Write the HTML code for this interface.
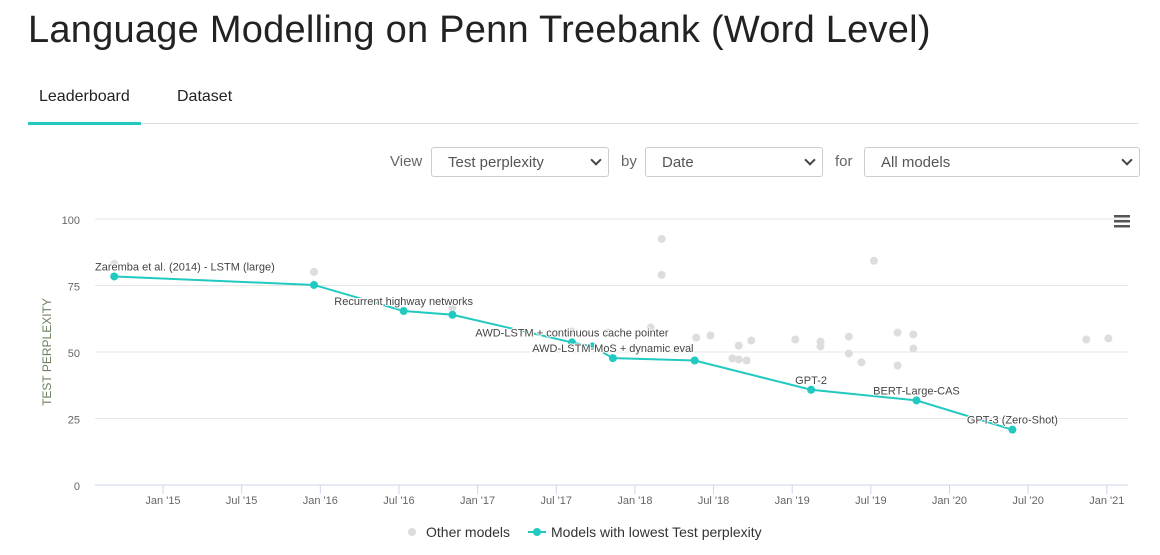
<!DOCTYPE html>
<html><head><meta charset="utf-8">
<style>
body{margin:0;width:1160px;height:555px;background:#fff;font-family:"Liberation Sans",sans-serif;overflow:hidden;position:relative}
.title{position:absolute;left:28px;top:9px;font-size:38px;color:#222;white-space:nowrap;letter-spacing:0.25px}
.tab{position:absolute;top:88px;font-size:16px;color:#222}
.sel{position:absolute;top:147px;height:30px;border:1px solid #ccc;border-radius:3px;box-sizing:border-box;font-size:15px;color:#555;padding:6px 16px;background:#fff}
.sel:after{content:"";position:absolute;right:8px;top:8px;width:6px;height:6px;border-right:2px solid #444;border-bottom:2px solid #444;transform:rotate(45deg)}
.lbl{position:absolute;top:153px;font-size:15px;color:#666}
</style></head><body>
<div class="title">Language Modelling on Penn Treebank (Word Level)</div>
<div class="tab" style="left:39px">Leaderboard</div>
<div class="tab" style="left:177px">Dataset</div>
<div style="position:absolute;left:28px;top:123px;width:1110px;height:1px;background:#ddd"></div>
<div style="position:absolute;left:28px;top:122px;width:113px;height:3px;background:#21c9c0"></div>
<div class="lbl" style="left:390px">View</div>
<div class="sel" style="left:431px;width:178px">Test perplexity</div>
<div class="lbl" style="left:621px">by</div>
<div class="sel" style="left:645px;width:178px">Date</div>
<div class="lbl" style="left:835px">for</div>
<div class="sel" style="left:864px;width:276px">All models</div>
<svg id="chart" width="1160" height="555" style="position:absolute;left:0;top:0" font-family="Liberation Sans, sans-serif"></svg>
<script>
const yTicks=[0,25,50,75,100];
const xTickYears=[2015,2015.5,2016,2016.5,2017,2017.5,2018,2018.5,2019,2019.5,2020,2020.5,2021];
const xTickLabels=["Jan '15","Jul '15","Jan '16","Jul '16","Jan '17","Jul '17","Jan '18","Jul '18","Jan '19","Jul '19","Jan '20","Jul '20","Jan '21"];
const bestDates=[2014.69,2015.96,2016.53,2016.84,2017.60,2017.73,2017.86,2018.38,2019.12,2019.79,2020.40];
const bestValues=[78.4,75.2,65.4,64.0,53.6,52.1,47.7,46.8,35.8,31.8,20.8];
const bestLabels=["Zaremba et al. (2014) - LSTM (large)","","Recurrent highway networks","","AWD-LSTM + continuous cache pointer","","AWD-LSTM-MoS + dynamic eval","","GPT-2","BERT-Large-CAS","GPT-3 (Zero-Shot)"];
const otherDates=[2014.69,2015.96,2016.84,2017.60,2017.83,2018.10,2018.17,2018.17,2018.39,2018.48,2018.66,2018.74,2018.62,2018.66,2018.71,2019.02,2019.18,2019.18,2019.36,2019.36,2019.44,2019.52,2019.67,2019.67,2019.77,2019.77,2020.87,2021.01];
const otherValues=[83.1,80.1,66.7,57.7,57.3,59.2,92.5,79.0,55.4,56.2,52.4,54.3,47.6,47.2,46.8,54.7,53.9,52.1,55.8,49.4,46.1,84.3,57.3,44.9,56.6,51.3,54.7,55.1];
const svg=document.getElementById('chart');
const NS='http://www.w3.org/2000/svg';
const X=t=>163+(t-2015)*157.3;
const Y=v=>485-v*2.66;
function mk(tag,at,txt){const e=document.createElementNS(NS,tag);for(const k in at)e.setAttribute(k,at[k]);if(txt!=null)e.textContent=txt;svg.appendChild(e);return e;}
yTicks.forEach(v=>{
  if(v>0){const g=mk('line',{x1:95,x2:1128,y1:Y(v),y2:Y(v),stroke:'#e6e6e6','stroke-width':1});
  
  }
  const t=mk('text',{x:80,y:Y(v)+5,'text-anchor':'end','font-size':11,fill:'#666'},v);
  
  
});
const ax=mk('line',{x1:95,x2:1128,y1:485,y2:485,stroke:'#ccd6eb','stroke-width':1});


xTickYears.forEach((t,i)=>{
  const l=mk('line',{x1:X(t),x2:X(t),y1:485,y2:494,stroke:'#ccd6eb'});
  
  
  const tx=mk('text',{x:X(t),y:504,'text-anchor':'middle','font-size':11,fill:'#666'},xTickLabels[i]);
  
  
});
const yt=mk('text',{x:0,y:0,transform:'translate(51,352) rotate(-90)','text-anchor':'middle','font-size':12,fill:'#6b7f5e'},'TEST PERPLEXITY');


otherDates.forEach((t,i)=>{
  const c=mk('circle',{cx:X(t),cy:Y(otherValues[i]),r:4,fill:'#dddddd'});
  
  
});
const pl=mk('polyline',{points:bestDates.map((t,i)=>X(t)+','+Y(bestValues[i])).join(' '),fill:'none',stroke:'#21c9c0','stroke-width':2});


bestDates.forEach((t,i)=>{
  const c=mk('circle',{cx:X(t),cy:Y(bestValues[i]),r:4,fill:'#21c9c0'});
  
  
  if(bestLabels[i]){
    const first=i===0;
    const tl=mk('text',{x:first?95:X(t),y:Y(bestValues[i])-6,'text-anchor':first?'start':'middle','font-size':11,fill:'#444',stroke:'#fff','stroke-width':2,'paint-order':'stroke'},bestLabels[i]);
    
    
  }
});
const m=mk('g',{});


[215,220,225].forEach(y=>{const r=document.createElementNS(NS,'rect');r.setAttribute('x',1114);r.setAttribute('y',y);r.setAttribute('width',16);r.setAttribute('height',2.5);r.setAttribute('fill','#555');m.appendChild(r);});
const l1=mk('circle',{cx:412,cy:532,r:4,fill:'#dddddd'});


const l1t=mk('text',{x:426,y:537,'font-size':14,fill:'#333'},'Other models');


const l2=mk('line',{x1:528,x2:546,y1:532,y2:532,stroke:'#21c9c0','stroke-width':2});


const l2c=mk('circle',{cx:537,cy:532,r:4,fill:'#21c9c0'});


const l2t=mk('text',{x:551,y:537,'font-size':14,fill:'#333'},'Models with lowest Test perplexity');


</script>
</body></html>
